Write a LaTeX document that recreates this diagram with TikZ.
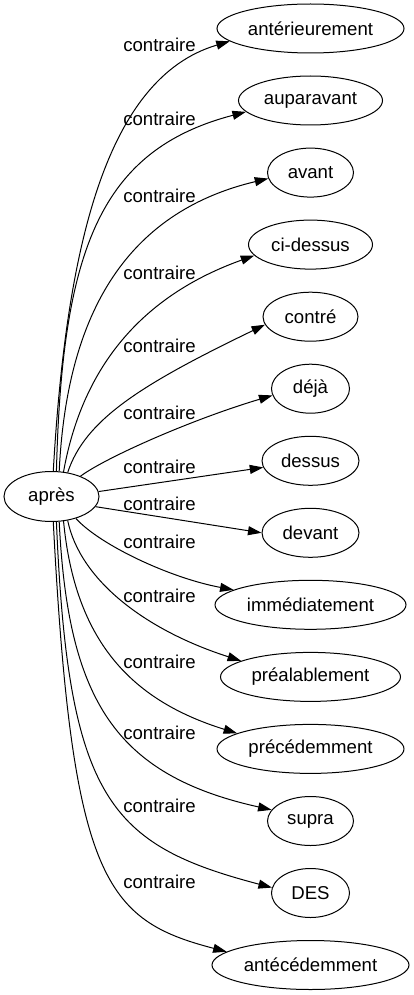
\documentclass[tikz,border=0pt]{standalone}
\usepackage{fontspec}
\setmainfont{Liberation Sans}
\usetikzlibrary{shapes.geometric,arrows.meta}
\tikzset{
  gvnode/.style={draw, ellipse, line width=1pt, inner sep=0pt, minimum height=49pt, font=\fontsize{18.6}{20}\selectfont},
  gvlabel/.style={inner sep=0pt, font=\fontsize{18.6}{20}\selectfont},
  gvedge/.style={line width=1pt, -{Triangle[length=13.5pt,width=9pt]}}
}
\begin{document}
\begin{tikzpicture}[x=1pt,y=-1pt]
\useasboundingbox (0,0) rectangle (413,995);
\node[gvnode, minimum width=95pt, minimum height=50pt] (root) at (51.5,496.5) {après};
\node[gvnode, minimum width=187pt] (t1) at (310.5,28.5) {antérieurement};
\node[gvnode, minimum width=144pt] (t2) at (310.5,100.5) {auparavant};
\node[gvnode, minimum width=86pt] (t3) at (310.5,172.6) {avant};
\node[gvnode, minimum width=124pt] (t4) at (310.5,244.6) {ci-dessus};
\node[gvnode, minimum width=95pt] (t5) at (310.5,316.7) {contré};
\node[gvnode, minimum width=78pt] (t6) at (310.5,388.7) {déjà};
\node[gvnode, minimum width=97pt] (t7) at (310.5,460.8) {dessus};
\node[gvnode, minimum width=97pt] (t8) at (310.5,532.8) {devant};
\node[gvnode, minimum width=191pt] (t9) at (310.5,604.8) {immédiatement};
\node[gvnode, minimum width=180pt] (t10) at (310.5,676.9) {préalablement};
\node[gvnode, minimum width=187pt] (t11) at (310.5,748.9) {précédemment};
\node[gvnode, minimum width=86pt] (t12) at (310.5,821.0) {supra};
\node[gvnode, minimum width=78pt] (t13) at (310.5,893.0) {DES};
\node[gvnode, minimum width=197pt] (t14) at (310.5,965.0) {antécédemment};

\node[gvlabel] (l1) at (159.5,45) {contraire};
\node[gvlabel] (l2) at (159.5,119) {contraire};
\node[gvlabel] (l3) at (159.5,196) {contraire};
\node[gvlabel] (l4) at (159.5,273) {contraire};
\node[gvlabel] (l5) at (159.5,346) {contraire};
\node[gvlabel] (l6) at (159.5,413) {contraire};
\node[gvlabel] (l7) at (159.5,467) {contraire};
\node[gvlabel] (l8) at (159.5,504) {contraire};
\node[gvlabel] (l9) at (159.5,542) {contraire};
\node[gvlabel] (l10) at (159.5,596) {contraire};
\node[gvlabel] (l11) at (159.5,662) {contraire};
\node[gvlabel] (l12) at (159.5,733) {contraire};
\node[gvlabel] (l13) at (159.5,806) {contraire};
\node[gvlabel] (l14) at (159.5,882) {contraire};

\draw[gvedge] (root.86.6) .. controls (66,250) and (105,78) .. (t1.189.8);
\draw[gvedge] (root.79.8) .. controls (62,250) and (100,150) .. (t2.190.3);
\draw[gvedge] (root.73.1) .. controls (66,330) and (115,215) .. (t3.188.8);
\draw[gvedge] (root.64.6) .. controls (80,380) and (130,300) .. (t4.191);
\draw[gvedge] (root.56.7) .. controls (85,420) and (140,385) .. (t5.190);
\draw[gvedge] (root.35) .. controls (105,458) and (190,420) .. (t6.190);
\draw[gvedge] (root.6.3) -- (t7.188);
\draw[gvedge] (root.-13) -- (t8.180);
\draw[gvedge] (root.-42.7) .. controls (100,545) and (170,578) .. (t9.169.5);
\draw[gvedge] (root.-56.7) .. controls (80,580) and (145,630) .. (t10.167.8);
\draw[gvedge] (root.-64.6) .. controls (75,640) and (130,700) .. (t11.168);
\draw[gvedge] (root.-73.1) .. controls (68,700) and (115,775) .. (t12.164);
\draw[gvedge] (root.-79.8) .. controls (68,800) and (110,845) .. (t13.172);
\draw[gvedge] (root.-86.6) .. controls (72,880) and (105,920) .. (t14.171.9);
\end{tikzpicture}
\end{document}
